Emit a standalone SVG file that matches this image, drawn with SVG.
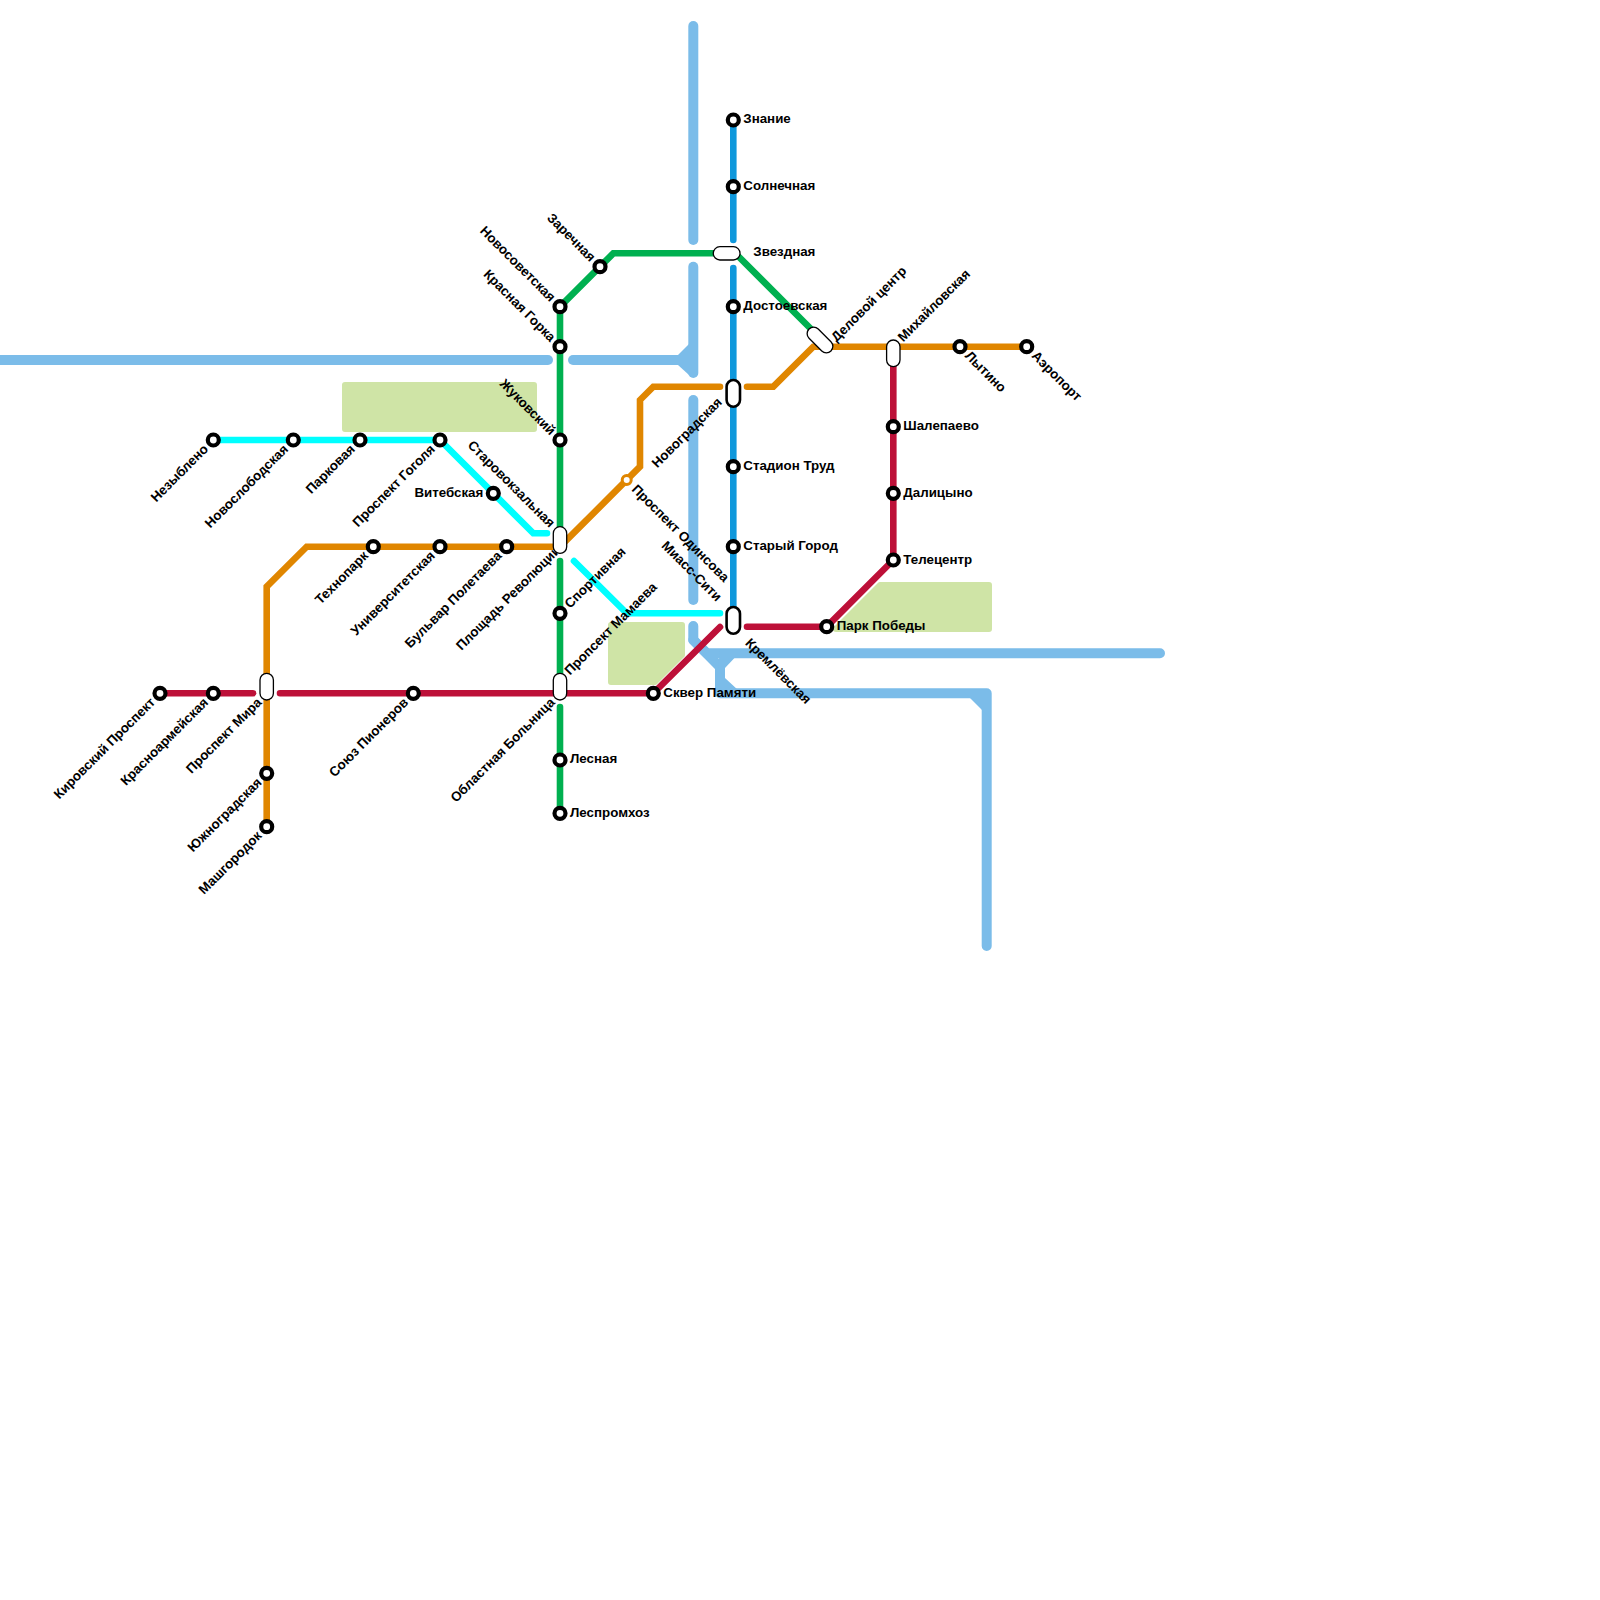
<svg xmlns="http://www.w3.org/2000/svg" width="1600" height="1600" viewBox="0 0 1600 1600">
<style>
.l{fill:none;stroke-width:6.6;stroke-linecap:round;stroke-linejoin:miter}
.r{fill:none;stroke:#7bbce9;stroke-width:10;stroke-linecap:round;stroke-linejoin:round}
.f{fill:#7bbce9}
.g{stroke:#00b050}.o{stroke:#e08600}.d{stroke:#bd1038}.c{stroke:#00ffff}.b{stroke:#0e98dc}
.p{fill:#cfe4a6;stroke:#cfe4a6;stroke-width:6;stroke-linejoin:round}
.s{fill:#fff;stroke:#000;stroke-width:4.2}
.i{fill:#fff;stroke:#000;stroke-width:1.3}
.t{fill:#fff;stroke:#000;stroke-width:2.6}
text{font-family:"Liberation Sans",Arial,sans-serif;font-size:13.33px;font-weight:700;fill:#000}
.e{text-anchor:end}
</style>
<g id="parks">
<path class="p" d="M345 385H534V429H345Z"/>
<path class="p" d="M611 625H682V655L655 682H611Z"/>
<path class="p" d="M880 585H989V629H836Z"/>
</g>
<g id="water">
<path class="r" d="M693.3 26V240"/>
<path class="r" d="M693.3 266.7V373"/>
<path class="r" d="M693.3 400V600"/>
<path class="r" d="M0 360H548"/>
<path class="r" d="M573 360H693"/>
<path class="f" d="M678 355L689 344H698V375H689L678 365Z"/>
<path class="r" d="M693.3 626V640L720 667V693.3H986.7V946"/>
<path class="r" d="M693.3 640L707 653.3H1160"/>
<path class="f" d="M720 650H742L725 668H718Z"/>
<path class="f" d="M720 670L725 678L738 690H720Z"/>
<path class="f" d="M964 692H990V718Z"/>
</g>
<g id="connectors">
<path class="l b" d="M733.3 120V240"/>
<path class="l b" d="M733.3 268V620"/>
<path class="l g" d="M560 306.7L613.3 253.3H715"/>
<path class="l g" d="M738 256L815 333"/>
<path class="l g" d="M560 306.7V527"/>
<path class="l g" d="M560 561V680"/>
<path class="l g" d="M560 707V813.3"/>
<path class="l c" d="M213.3 440H440L533.3 533.3H547"/>
<path class="l c" d="M574 561L626.7 613.3H720"/>
<path class="l o" d="M266.7 826.7V586.7L306.7 546.7H553"/>
<path class="l o" d="M560 546.7L640 466.7V400L653.3 386.7H720"/>
<path class="l o" d="M747 386.7H773.3L813.3 346.7H1026.7"/>
<path class="l d" d="M160 693.3H253"/>
<path class="l d" d="M280 693.3H653.3L720 627"/>
<path class="l d" d="M747 626.7H826.7L893.3 560V365"/>
</g>
<g id="st-znanie"><circle class="s" cx="733.3" cy="120" r="5.5"/><text x="743.3" y="123">Знание</text></g>
<g id="st-solnechnaya"><circle class="s" cx="733.3" cy="186.7" r="5.5"/><text x="743.3" y="189.5">Солнечная</text></g>
<g id="st-zvezdnaya"><rect class="i" x="713.3" y="246.7" width="26.7" height="13.3" rx="6.6"/><text x="753.3" y="256">Звездная</text></g>
<g id="st-dostoevskaya"><circle class="s" cx="733.3" cy="306.7" r="5.5"/><text x="743.3" y="310">Достоевская</text></g>
<g id="st-novogradskaya"><rect class="t" x="726.6" y="380" width="13.4" height="26.7" rx="6.7"/><text transform="translate(733.3 386.7) rotate(-45)" x="-19" y="4" class="e">Новоградская</text></g>
<g id="st-stadion"><circle class="s" cx="733.3" cy="466.7" r="5.5"/><text x="743.3" y="470">Стадион Труд</text></g>
<g id="st-stary"><circle class="s" cx="733.3" cy="546.7" r="5.5"/><text x="743.3" y="550">Старый Город</text></g>
<g id="st-miass"><rect class="t" x="726.6" y="607" width="13.4" height="26.7" rx="6.7"/><text transform="translate(733.3 613.3) rotate(45)" x="-20" y="4" class="e">Миасс-Сити</text><text transform="translate(733.3 626.7) rotate(45)" x="20" y="4">Кремлёвская</text></g>
<g id="st-zarechnaya"><circle class="s" cx="600" cy="266.7" r="5.5"/><text transform="translate(600 266.7) rotate(45)" x="-10" y="4" class="e">Заречная</text></g>
<g id="st-novosov"><circle class="s" cx="560" cy="306.7" r="5.5"/><text transform="translate(560 306.7) rotate(45)" x="-10" y="4" class="e">Новосоветская</text></g>
<g id="st-krasnaya"><circle class="s" cx="560" cy="346.7" r="5.5"/><text transform="translate(560 346.7) rotate(45)" x="-10" y="4" class="e">Красная Горка</text></g>
<g id="st-zhuk"><circle class="s" cx="560" cy="440" r="5.5"/><text transform="translate(560 440) rotate(45)" x="-10" y="4" class="e">Жуковский</text></g>
<g id="st-ploshchad"><text transform="translate(560 546.7) rotate(-45)" x="-2" y="4" class="e">Площадь Революции</text><rect class="i" x="553.3" y="526.7" width="13.4" height="26.7" rx="6.7"/><text transform="translate(560 533.3) rotate(45)" x="-11" y="4" class="e">Старовокзальная</text></g>
<g id="st-sport"><circle class="s" cx="560" cy="613.3" r="5.5"/><text transform="translate(560 613.3) rotate(-45)" x="10" y="4">Спортивная</text></g>
<g id="st-mamaeva"><rect class="i" x="553.3" y="673.3" width="13.4" height="26.7" rx="6.7"/><text transform="translate(560 680) rotate(-45)" x="10" y="4">Пропсект Мамаева</text><text transform="translate(560 693.3) rotate(-45)" x="-10" y="4" class="e">Областная Больница</text></g>
<g id="st-lesnaya"><circle class="s" cx="560" cy="760" r="5.5"/><text x="570" y="763">Лесная</text></g>
<g id="st-lesprom"><circle class="s" cx="560" cy="813.3" r="5.5"/><text x="570" y="816.5">Леспромхоз</text></g>
<g id="st-neznyb"><circle class="s" cx="213.3" cy="440" r="5.5"/><text transform="translate(213.3 440) rotate(-45)" x="-10" y="4" class="e">Незыблено</text></g>
<g id="st-novosl"><circle class="s" cx="293.3" cy="440" r="5.5"/><text transform="translate(293.3 440) rotate(-45)" x="-10" y="4" class="e">Новослободская</text></g>
<g id="st-parkovaya"><circle class="s" cx="360" cy="440" r="5.5"/><text transform="translate(360 440) rotate(-45)" x="-10" y="4" class="e">Парковая</text></g>
<g id="st-gogol"><circle class="s" cx="440" cy="440" r="5.5"/><text transform="translate(440 440) rotate(-45)" x="-10" y="4" class="e">Проспект Гоголя</text></g>
<g id="st-vitebskaya"><circle class="s" cx="493.3" cy="493.3" r="5.5"/><text x="483.3" y="497" class="e">Витебская</text></g>
<g id="st-technopark"><circle class="s" cx="373.3" cy="546.7" r="5.5"/><text transform="translate(373.3 546.7) rotate(-45)" x="-10" y="4" class="e">Технопарк</text></g>
<g id="st-univer"><circle class="s" cx="440" cy="546.7" r="5.5"/><text transform="translate(440 546.7) rotate(-45)" x="-10" y="4" class="e">Университетская</text></g>
<g id="st-bulvar"><circle class="s" cx="506.7" cy="546.7" r="5.5"/><text transform="translate(506.7 546.7) rotate(-45)" x="-10" y="4" class="e">Бульвар Полетаева</text></g>
<g id="st-odintsova"><circle cx="626.7" cy="480" r="4.5" fill="#fff" stroke="#e08600" stroke-width="3"/><text transform="translate(626.7 480) rotate(45)" x="10" y="4">Проспект Одинсова</text></g>
<g id="st-kirov"><circle class="s" cx="160" cy="693.3" r="5.5"/><text transform="translate(160 693.3) rotate(-45)" x="-10" y="4" class="e">Кировский Проспект</text></g>
<g id="st-krasnoarm"><circle class="s" cx="213.3" cy="693.3" r="5.5"/><text transform="translate(213.3 693.3) rotate(-45)" x="-10" y="4" class="e">Красноармейская</text></g>
<g id="st-mira"><rect class="i" x="260" y="673.3" width="13.4" height="26.7" rx="6.7"/><text transform="translate(266.7 693.3) rotate(-45)" x="-10" y="4" class="e">Проспект Мира</text></g>
<g id="st-soyuz"><circle class="s" cx="413.3" cy="693.3" r="5.5"/><text transform="translate(413.3 693.3) rotate(-45)" x="-10" y="4" class="e">Союз Пионеров</text></g>
<g id="st-yuzhno"><circle class="s" cx="266.7" cy="773.3" r="5.5"/><text transform="translate(266.7 773.3) rotate(-45)" x="-10" y="4" class="e">Южноградская</text></g>
<g id="st-mashg"><circle class="s" cx="266.7" cy="826.7" r="5.5"/><text transform="translate(266.7 826.7) rotate(-45)" x="-10" y="4" class="e">Машгородок</text></g>
<g id="st-skver"><circle class="s" cx="653.3" cy="693.3" r="5.5"/><text x="663.3" y="697">Сквер Памяти</text></g>
<g id="st-delovoy"><rect class="i" x="804.5" y="333.5" width="31" height="13" rx="6.5" transform="rotate(45 820 340)"/><text transform="translate(826.7 346.7) rotate(-45)" x="10" y="4">Деловой центр</text></g>
<g id="st-mikh"><rect class="i" x="886.6" y="340" width="13.4" height="26.7" rx="6.7"/><text transform="translate(893.3 346.7) rotate(-45)" x="10" y="4">Михайловская</text></g>
<g id="st-lytkino"><circle class="s" cx="960" cy="346.7" r="5.5"/><text transform="translate(960 346.7) rotate(45)" x="10" y="4">Лытино</text></g>
<g id="st-aero"><circle class="s" cx="1026.7" cy="346.7" r="5.5"/><text transform="translate(1026.7 346.7) rotate(45)" x="10" y="4">Аэропорт</text></g>
<g id="st-shal"><circle class="s" cx="893.3" cy="426.7" r="5.5"/><text x="903.3" y="430">Шалепаево</text></g>
<g id="st-dal"><circle class="s" cx="893.3" cy="493.3" r="5.5"/><text x="903.3" y="497">Далицыно</text></g>
<g id="st-tele"><circle class="s" cx="893.3" cy="560" r="5.5"/><text x="903.3" y="563.5">Телецентр</text></g>
<g id="st-pobeda"><circle class="s" cx="826.7" cy="626.7" r="5.5"/><text x="836.7" y="630">Парк Победы</text></g>
</svg>
